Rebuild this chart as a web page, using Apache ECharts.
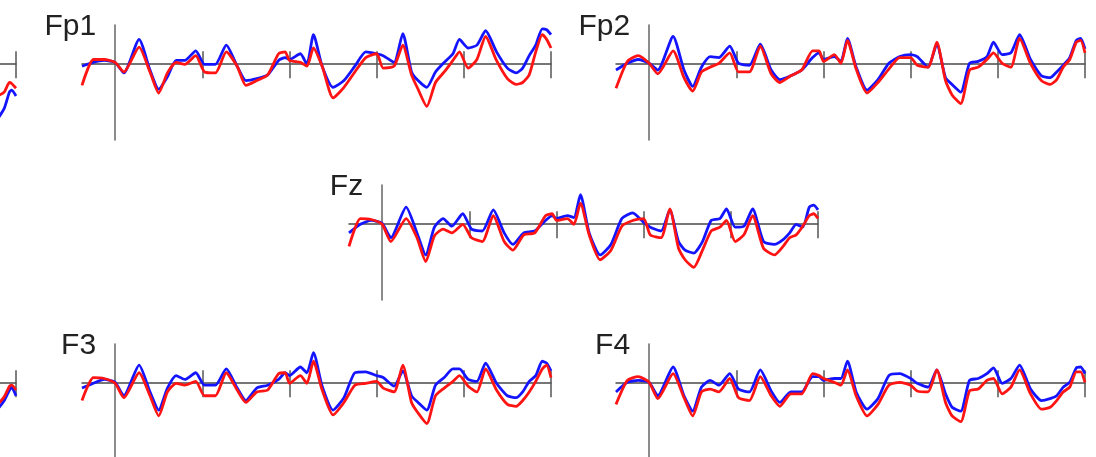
<!DOCTYPE html>
<html>
<head>
<meta charset="utf-8">
<script src="https://cdn.jsdelivr.net/npm/echarts@6/dist/echarts.min.js"></script>
<style>
html,body{margin:0;padding:0;background:#fff;}
#chart{width:1096px;height:457px;}
</style>
</head>
<body>
<div id="chart"></div>
<script>
// time points (ms) shared by the full panels
const times = [-76,-50,-25,0,20,55,80,100,120,140,160,185,205,230,255,280,300,325,350,375,390,400,425,440,455,475,500,525,550,575,600,615,640,660,680,695,715,735,755,775,790,810,830,850,875,900,920,935,950,965,980,990,1000];
const tickValues = [200,400,600,800,1000];
const channelNames = ['Fp1','Fp2','Fz','F3','F4'];

const fp1Blue = [-0.3,0.1,0.3,0.1,-1.0,2.5,-0.7,-2.7,-1.4,0.3,0.3,1.3,-0.1,-0.1,1.9,-0.3,-1.8,-1.6,-1.2,0.3,0.6,0.4,1.0,-0.1,3.0,-0.3,-2.5,-1.8,-0.3,1.2,1.0,0.8,0.1,3.1,-0.9,-1.8,-2.5,-0.9,0.1,1.0,2.5,1.6,1.9,3.4,1.2,-0.5,-1.0,-0.5,0.8,1.9,3.6,3.5,3.0];
const fp1Red  = [-2.3,0.4,0.4,0.1,-0.9,1.7,-0.9,-3.1,-1.0,0.1,-0.1,0.8,-0.9,-1.0,1.2,-0.3,-2.3,-1.8,-1.2,1.0,1.2,0.3,0.1,-0.3,1.6,-0.3,-3.6,-2.5,-0.9,0.6,1.0,-0.5,-0.3,1.9,-1.2,-2.7,-4.5,-2.0,-0.9,0.3,1.2,-0.5,0.4,2.8,0.3,-1.6,-2.2,-2.0,-1.2,1.2,3.0,2.5,1.6];
const fp2Blue = [-0.7,0,0.4,0,-0.7,2.8,-0.7,-2.4,-0.4,0.7,0.6,1.8,0,-0.2,2.0,-0.7,-1.7,-1.3,-0.7,0.6,1.1,0.4,0.7,0.2,2.6,-0.4,-2.8,-1.7,0,0.7,0.9,0.7,-0.4,2.0,-1.5,-2.2,-3.0,0,0.2,0.7,2.2,0.9,1.1,3.0,0.4,-1.3,-1.5,-0.9,-0.2,0.6,2.4,2.6,1.5];
const fp2Red  = [-2.6,0.2,0.8,0,-1.1,1.3,-1.5,-2.9,-0.9,-0.4,0,1.1,-0.9,-0.9,1.8,-1.1,-2.0,-1.3,-0.7,1.3,1.3,0.2,0.9,0,2.4,-0.6,-3.1,-2.0,-0.6,0.6,0.6,-0.2,-0.4,2.2,-1.8,-3.3,-4.2,-0.7,-0.4,0.4,1.1,0,-0.4,2.6,0,-1.8,-2.2,-1.7,-0.4,0.4,2.2,2.4,1.1];
const fzBlue  = [-1.0,-0.1,0.3,0,-1.5,1.7,-1.0,-3.3,-0.4,0.5,-0.3,1.0,-0.6,-0.8,1.4,-1.0,-2.2,-1.0,-0.8,0.3,0.8,0.5,0.8,0.6,3.0,-1.0,-3.3,-2.2,0.5,1.1,0.1,-0.4,-0.8,1.4,-1.9,-2.8,-3.1,-1.9,0.3,0.5,1.5,-0.4,-0.3,1.5,-1.9,-2.2,-1.7,-1.0,-0.1,-0.4,1.7,1.9,1.4];
const fzRed   = [-2.4,0.5,0.4,-0.1,-1.9,0.5,-1.5,-4.0,-1.3,-0.6,-1.0,-0.1,-1.5,-1.9,0.8,-1.9,-2.8,-1.2,-1.0,0.8,1.0,0.3,0.5,-0.1,2.1,-1.2,-3.8,-2.8,-0.3,0.3,0.5,-1.2,-1.5,1.5,-2.6,-3.8,-4.6,-2.8,-0.8,-0.4,0.3,-1.9,-1.2,0.8,-2.6,-3.3,-2.4,-1.5,-1.2,-0.3,0.8,1.0,0.5];
const f3Blue  = [-0.6,-0.1,0.3,0,-1.4,1.8,-1.0,-2.9,-0.6,0.7,0.3,1.0,-0.3,-0.3,1.4,-0.6,-1.9,-0.6,-0.3,0.3,1.0,0.7,1.6,1.0,3.1,-0.4,-2.9,-1.6,1.0,1.1,0.7,0.5,-0.4,1.2,-1.4,-2.1,-2.9,-0.3,0.5,1.4,1.4,0.3,0.1,2.0,-0.1,-1.4,-1.6,-1.0,0.1,0.7,2.2,2.0,1.2];
const f3Red   = [-1.9,0.5,0.4,-0.1,-1.6,1.0,-1.4,-3.5,-1.0,-0.1,-0.3,0.1,-1.4,-1.4,1.0,-0.8,-2.1,-1.0,-0.8,0.9,1.0,-0.1,0.7,-0.1,2.2,-0.8,-3.4,-2.1,-0.3,-0.1,0.1,-0.6,-1.0,1.8,-2.1,-3.2,-4.3,-1.4,-0.6,0.1,0.7,-0.4,-1.0,1.4,-0.8,-2.3,-2.5,-1.9,-1.0,0.1,1.4,1.8,0.5];
const f4Blue  = [-1.0,0,0.2,0,-1.4,1.6,-1.4,-3.0,-0.5,0.2,-0.3,0.9,-0.7,-1.0,1.3,-0.9,-2.1,-1.0,-1.0,0.6,0.6,0.2,0.4,0.4,2.2,-1.0,-2.8,-1.7,0.7,0.9,0.4,-0.1,-0.5,1.3,-1.2,-2.6,-3.0,0.2,0.4,0.9,1.5,-0.1,0.4,1.8,-0.7,-1.9,-1.7,-1.4,-0.5,0,1.5,1.6,0.9];
const f4Red   = [-2.3,0.2,0.6,0,-1.7,0.9,-1.6,-3.5,-1.0,-0.7,-1.0,0.4,-1.6,-1.9,0.6,-1.4,-2.5,-1.2,-1.2,0.9,0.7,0.4,0,-0.3,1.3,-1.4,-3.5,-2.3,-0.3,0,-0.3,-0.9,-1.0,1.3,-2.1,-3.5,-4.1,-0.9,-0.7,0.2,0.4,-1.2,-0.5,1.3,-1.2,-2.8,-2.6,-1.9,-1.0,-0.5,1.1,1.1,0];

// panels cut off at the left edge: only their last moments are visible
const edgeTimes = [958,973,985,990,1000];
const edgeTopBlue = [-5.8,-4.7,-3.0,-2.8,-3.4];
const edgeTopRed  = [-3.4,-3.0,-2.0,-2.1,-2.6];
const edgeBotBlue = [-2.8,-1.9,-0.8,-0.5,-1.4];
const edgeBotRed  = [-2.3,-1.5,-0.4,-0.3,-0.8];

const panels = [
  {name:'Fp1', left:82,   top:25,  t:times, blue:fp1Blue, red:fp1Red},
  {name:'Fp2', left:616,  top:25,  t:times, blue:fp2Blue, red:fp2Red},
  {name:'Fz',  left:349,  top:185, t:times, blue:fzBlue,  red:fzRed},
  {name:'F3',  left:82,   top:344, t:times, blue:f3Blue,  red:f3Red},
  {name:'F4',  left:616,  top:344, t:times, blue:f4Blue,  red:f4Red},
  {name:'',    left:-453, top:25,  t:edgeTimes, blue:edgeTopBlue, red:edgeTopRed},
  {name:'',    left:-453, top:344, t:edgeTimes, blue:edgeBotBlue, red:edgeBotRed}
];

const W = 469, H = 115, XMIN = -76, XMAX = 1000, YMIN = -8, YMAX = 4;
const zeroOffset = (0 - XMIN) / (XMAX - XMIN) * W;

const grid = [], xAxis = [], yAxis = [], series = [], graphic = [];
panels.forEach((p, i) => {
  grid.push({left:p.left, top:p.top, width:W, height:H, containLabel:false, outerBoundsMode:'none', show:false});
  const base = {
    type:'value', gridIndex:i, min:XMIN, max:XMAX,
    axisLabel:{show:false}, splitLine:{show:false}
  };
  xAxis.push(Object.assign({}, base, {
    position:'bottom',
    axisLine:{show:true, onZero:true, onZeroAxisIndex:i, lineStyle:{color:'#4a4a4a', width:1.5}},
    axisTick:{show:true, customValues:tickValues, length:15, lineStyle:{color:'#555', width:1.5}}
  }));
  xAxis.push(Object.assign({}, base, {
    position:'top',
    axisLine:{show:false, onZero:true, onZeroAxisIndex:i},
    axisTick:{show:true, customValues:tickValues, length:12, lineStyle:{color:'#555', width:1.5}}
  }));
  yAxis.push({
    type:'value', gridIndex:i, min:YMIN, max:YMAX,
    axisLine:{show:true, onZero:true, onZeroAxisIndex:2*i, lineStyle:{color:'#6e6e6e', width:1.6}},
    axisTick:{show:false}, axisLabel:{show:false}, splitLine:{show:false}
  });
  const mk = (vals, color) => ({
    type:'line', xAxisIndex:2*i, yAxisIndex:i,
    data: p.t.map((t, k) => [t, vals[k]]),
    showSymbol:false, smooth:0.2, silent:true,
    lineStyle:{color:color, width:2.8}, itemStyle:{color:color}
  });
  series.push(mk(p.blue, '#1414ff'));
  series.push(mk(p.red, '#ff1414'));
  if (p.name) {
    graphic.push({
      type:'text', x:p.left + zeroOffset - 19, y:p.top + 2,
      style:{text:p.name, font:'30px "Liberation Sans", Arial, sans-serif', fill:'#222',
             align:'right', verticalAlign:'middle', textAlign:'right', textVerticalAlign:'middle'}
    });
  }
});

const chart = echarts.init(document.getElementById('chart'), null, {renderer:'canvas'});
chart.setOption({
  backgroundColor:'#ffffff',
  animation:false,
  grid, xAxis, yAxis, series, graphic
});
</script>
</body>
</html>
